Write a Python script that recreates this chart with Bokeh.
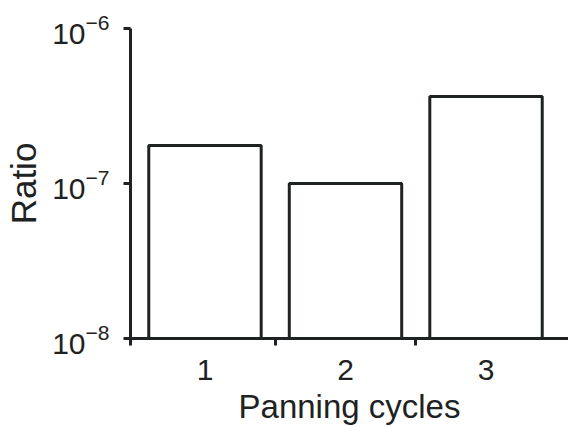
from bokeh.plotting import figure
from bokeh.models import Range1d, FixedTicker, LogTickFormatter
from bokeh.embed import file_html
from bokeh.resources import INLINE

cycles = [1, 2, 3]
cycle_labels = ["1", "2", "3"]
ratios = [1.76e-7, 1.0e-7, 3.64e-7]
y_ticks = [1e-8, 1e-7, 1e-6]
boundaries = [0.47, 1.5, 2.5]

INK = "#1e2222"
FONT = "Liberation Sans"

p = figure(width=568, height=427, y_axis_type="log",
           x_range=Range1d(0.47, 3.587), y_range=Range1d(1e-8, 1e-6),
           output_backend="svg", toolbar_location=None,
           min_border_left=130, min_border_top=28, min_border_bottom=89,
           min_border_right=0)

p.vbar(x=cycles, top=ratios, bottom=1e-8, width=0.8,
       fill_color="white", line_color=INK, line_width=3)

p.grid.visible = False
p.outline_line_color = None
p.background_fill_color = "white"
p.border_fill_color = "white"

# y axis
ya = p.yaxis[0]
ya.ticker = FixedTicker(ticks=y_ticks, minor_ticks=[])
ya.formatter = LogTickFormatter()
ya.axis_line_width = 3
ya.axis_line_color = INK
ya.major_tick_line_width = 3
ya.major_tick_line_color = INK
ya.major_tick_out = 7
ya.major_tick_in = 0
ya.minor_tick_line_color = None
ya.major_label_text_font = FONT
ya.major_label_text_font_size = "30px"
ya.major_label_text_color = INK
ya.major_label_standoff = 14
ya.axis_label = "Ratio"
ya.axis_label_text_font = FONT
ya.axis_label_text_font_size = "35px"
ya.axis_label_text_font_style = "normal"
ya.axis_label_text_color = INK
ya.axis_label_standoff = 6

# x axis
xa = p.xaxis[0]
xa.ticker = FixedTicker(ticks=cycles, minor_ticks=boundaries)
xa.major_label_overrides = {c: lab for c, lab in zip(cycles, cycle_labels)}
xa.axis_line_width = 3
xa.axis_line_color = INK
xa.major_tick_line_color = None
xa.major_tick_out = 0
xa.major_tick_in = 0
xa.minor_tick_line_color = INK
xa.minor_tick_line_width = 3
xa.minor_tick_out = 7
xa.minor_tick_in = 0
xa.major_label_text_font = FONT
xa.major_label_text_font_size = "30px"
xa.major_label_text_color = INK
xa.major_label_standoff = 14
xa.axis_label = "Panning cycles"
xa.axis_label_text_font = FONT
xa.axis_label_text_font_size = "33px"
xa.axis_label_text_font_style = "normal"
xa.axis_label_text_color = INK
xa.axis_label_standoff = 5

open("out.html", "w").write(file_html(p, INLINE))
